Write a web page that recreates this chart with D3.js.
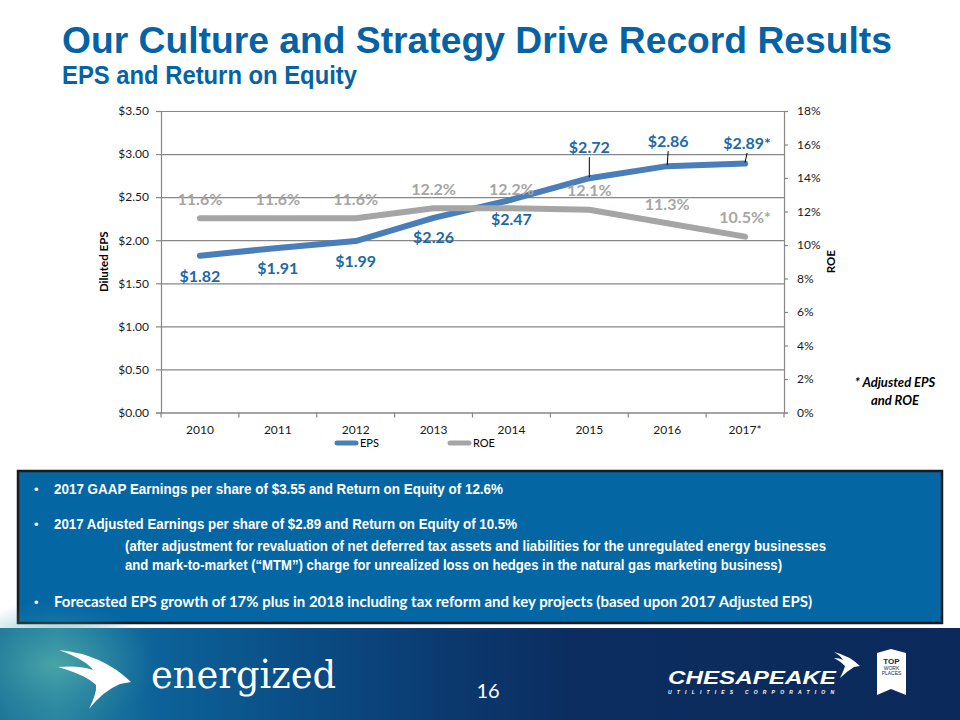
<!DOCTYPE html>
<html>
<head>
<meta charset="utf-8">
<script src="https://cdn.jsdelivr.net/npm/d3@7"></script>
<style>
  html, body { margin: 0; padding: 0; background: #ffffff; }
  svg { display: block; }
</style>
</head>
<body>
<svg id="chart" width="960" height="720"></svg>
<script>
// ---------------- DATA ----------------
const categories = ["2010", "2011", "2012", "2013", "2014", "2015", "2016", "2017*"];
const epsValues  = [1.82, 1.91, 1.99, 2.26, 2.47, 2.72, 2.86, 2.89];
const roeValues  = [11.6, 11.6, 11.6, 12.2, 12.2, 12.1, 11.3, 10.5];
const epsLabels  = ["$1.82", "$1.91", "$1.99", "$2.26", "$2.47", "$2.72", "$2.86", "$2.89*"];
const roeLabels  = ["11.6%", "11.6%", "11.6%", "12.2%", "12.2%", "12.1%", "11.3%", "10.5%*"];
const epsTicks   = [0, 0.5, 1, 1.5, 2, 2.5, 3, 3.5];
const roeTicks   = [0, 2, 4, 6, 8, 10, 12, 14, 16, 18];
const seriesNames = ["EPS", "ROE"];

// ---------------- LAYOUT (label placement, not data) ----------------
const epsLabelDy = [21, 20, 20, 20, 20, -31, -25, -20.5];
const epsLabelDx = [0, 0, 0, 0, 0, 0, 1, 2];
const epsLeader  = [false, false, false, false, false, true, true, true];
const roeLabelDy = -19;

const svg = d3.select("#chart");
const W = 960, H = 720;
const plot = { left: 161, right: 784, top: 111, bottom: 412.5 };

const C = {
  title: "#0563a5",
  eps: "#4a7ebb",
  epsText: "#1c69a8",
  roe: "#a5a5a5",
  roeText: "#a6a6a6",
  grid: "#878787",
  box: "#0566a4",
};
const chartFont = "Lato, 'Open Sans', 'DejaVu Sans', sans-serif";

// ---------------- TITLE ----------------
svg.append("text")
  .attr("x", 62).attr("y", 53)
  .attr("font-family", "'Liberation Sans', Arial, sans-serif")
  .attr("font-weight", "bold").attr("font-size", 36)
  .attr("textLength", 830).attr("lengthAdjust", "spacingAndGlyphs")
  .attr("fill", C.title)
  .text("Our Culture and Strategy Drive Record Results");

svg.append("text")
  .attr("x", 62).attr("y", 84)
  .attr("font-family", "'Liberation Sans', Arial, sans-serif")
  .attr("font-weight", "bold").attr("font-size", 25)
  .attr("textLength", 295).attr("lengthAdjust", "spacingAndGlyphs")
  .attr("fill", C.title)
  .text("EPS and Return on Equity");

// ---------------- SCALES ----------------
const x = d3.scaleBand().domain(categories).range([plot.left, plot.right]).padding(0);
const yL = d3.scaleLinear().domain([0, 3.5]).range([plot.bottom, plot.top]);
const yR = d3.scaleLinear().domain([0, 18]).range([plot.bottom, plot.top]);
const cx = d => x(d) + x.bandwidth() / 2;

const g = svg.append("g");

// gridlines
g.append("g")
  .attr("transform", `translate(${plot.left},0)`)
  .call(d3.axisLeft(yL).tickValues(epsTicks).tickSize(-(plot.right - plot.left)).tickFormat(""))
  .call(s => s.select(".domain").remove())
  .call(s => s.selectAll("line").attr("stroke", C.grid).attr("stroke-width", 1.2));

// left axis
g.append("g")
  .attr("transform", `translate(${plot.left},0)`)
  .call(d3.axisLeft(yL).tickValues(epsTicks).tickSize(5).tickPadding(7)
        .tickFormat(d => "$" + d.toFixed(2)))
  .call(s => s.select(".domain").attr("stroke", C.grid).attr("stroke-width", 1.2))
  .call(s => s.selectAll("line").attr("stroke", C.grid).attr("stroke-width", 1.2))
  .call(s => s.selectAll("text").attr("font-family", chartFont).attr("font-size", 12).attr("fill", "#1a1a1a"));

// right axis
g.append("g")
  .attr("transform", `translate(${plot.right},0)`)
  .call(d3.axisRight(yR).tickValues(roeTicks).tickSize(4).tickPadding(9)
        .tickFormat(d => d + "%"))
  .call(s => s.select(".domain").attr("stroke", C.grid).attr("stroke-width", 1.2))
  .call(s => s.selectAll("line").attr("stroke", C.grid).attr("stroke-width", 1.2))
  .call(s => s.selectAll("text").attr("font-family", chartFont).attr("font-size", 12).attr("fill", "#1a1a1a"));

// bottom axis
const xAxisG = g.append("g")
  .attr("transform", `translate(0,${plot.bottom})`)
  .call(d3.axisBottom(x).tickSize(0).tickPadding(12.5))
  .call(s => s.select(".domain").attr("stroke", C.grid).attr("stroke-width", 1.2))
  .call(s => s.selectAll("text").attr("font-family", chartFont).attr("font-size", 12).attr("fill", "#1a1a1a"));
// boundary ticks
const bounds = categories.map(c => x(c)).concat([x(categories[categories.length - 1]) + x.bandwidth()]);
xAxisG.selectAll("line.bt").data(bounds).join("line")
  .attr("class", "bt")
  .attr("x1", d => d).attr("x2", d => d)
  .attr("y1", 0).attr("y2", 5)
  .attr("stroke", C.grid).attr("stroke-width", 1.2);

// axis titles
svg.append("text")
  .attr("transform", `translate(108,${(plot.top + plot.bottom) / 2}) rotate(-90)`)
  .attr("text-anchor", "middle")
  .attr("font-family", chartFont).attr("font-weight", "bold").attr("font-size", 11.5)
  .attr("fill", "#000").text("Diluted EPS");

svg.append("text")
  .attr("transform", `translate(835,${(plot.top + plot.bottom) / 2}) rotate(-90)`)
  .attr("text-anchor", "middle")
  .attr("font-family", chartFont).attr("font-weight", "bold").attr("font-size", 11.5)
  .attr("fill", "#000").text("ROE");

// ---------------- LINES ----------------
const epsLine = d3.line().x((d, i) => cx(categories[i])).y(d => yL(d));
const roeLine = d3.line().x((d, i) => cx(categories[i])).y(d => yR(d));

g.append("path").datum(epsValues)
  .attr("d", epsLine).attr("fill", "none")
  .attr("stroke", C.eps).attr("stroke-width", 6)
  .attr("stroke-linecap", "round").attr("stroke-linejoin", "round");

g.append("path").datum(roeValues)
  .attr("d", roeLine).attr("fill", "none")
  .attr("stroke", C.roe).attr("stroke-width", 6)
  .attr("stroke-linecap", "round").attr("stroke-linejoin", "round");

// ---------------- DATA LABELS ----------------
const labelSize = 16;
epsValues.forEach((v, i) => {
  if (!epsLeader[i]) return;
  const px = cx(categories[i]);
  const py = yL(v);
  const lx = px + epsLabelDx[i];
  const ly = py + epsLabelDy[i] + 10;
  g.append("line")
    .attr("x1", lx).attr("y1", ly).attr("x2", px).attr("y2", py - 1)
    .attr("stroke", "#000").attr("stroke-width", 1);
});

g.selectAll("text.epsl").data(epsValues).join("text")
  .attr("class", "epsl")
  .attr("x", (d, i) => cx(categories[i]) + epsLabelDx[i])
  .attr("y", (d, i) => yL(d) + epsLabelDy[i])
  .attr("dy", "0.35em")
  .attr("text-anchor", "middle")
  .attr("font-family", chartFont).attr("font-weight", "bold").attr("font-size", labelSize)
  .attr("fill", C.epsText)
  .text((d, i) => epsLabels[i]);

g.selectAll("text.roel").data(roeValues).join("text")
  .attr("class", "roel")
  .attr("x", (d, i) => cx(categories[i]))
  .attr("y", d => yR(d) + roeLabelDy)
  .attr("dy", "0.35em")
  .attr("text-anchor", "middle")
  .attr("font-family", chartFont).attr("font-weight", "bold").attr("font-size", labelSize)
  .attr("fill", C.roeText)
  .text((d, i) => roeLabels[i]);

// ---------------- LEGEND ----------------
const legend = svg.append("g").attr("transform", "translate(0,443)");
const legendItems = [
  { name: seriesNames[0], color: C.eps, x: 335 },
  { name: seriesNames[1], color: C.roe, x: 448 },
];
legendItems.forEach(it => {
  legend.append("line").attr("x1", it.x + 2).attr("x2", it.x + 21).attr("y1", 0).attr("y2", 0)
    .attr("stroke", it.color).attr("stroke-width", 5).attr("stroke-linecap", "round");
  legend.append("text").attr("x", it.x + 25).attr("y", 0).attr("dy", "0.35em")
    .attr("font-family", chartFont).attr("font-size", 11).attr("fill", "#000").text(it.name);
});

// footnote
const fn = svg.append("text")
  .attr("text-anchor", "middle")
  .attr("font-family", chartFont).attr("font-weight", "bold").attr("font-style", "italic")
  .attr("font-size", 13).attr("fill", "#000");
fn.append("tspan").attr("x", 895).attr("y", 387).text("* Adjusted EPS");
fn.append("tspan").attr("x", 895).attr("y", 405).text("and ROE");

// ---------------- TEXT BOX ----------------
svg.append("rect").attr("x", 18).attr("y", 471).attr("width", 924).attr("height", 152)
  .attr("fill", C.box).attr("stroke", "#1b1b1b").attr("stroke-width", 2.5);

const narrow = "'Liberation Sans Narrow', 'Arial Narrow', 'Liberation Sans', sans-serif";
const boxLines = [
  { bullet: true, x: 54, y: 494, len: 449, font: narrow, text: "2017 GAAP Earnings per share of $3.55  and Return on Equity of 12.6%" },
  { bullet: true, x: 54, y: 529, len: 463, font: narrow, text: "2017 Adjusted Earnings per share of $2.89 and Return on Equity of 10.5%" },
  { bullet: false, x: 125, y: 551, len: 701, font: narrow, text: "(after adjustment for  revaluation of net deferred tax assets and liabilities for the unregulated energy businesses" },
  { bullet: false, x: 125, y: 570, len: 657, font: narrow, text: "and mark-to-market (\u201CMTM\u201D) charge for unrealized loss on hedges in the natural gas marketing business)" },
  { bullet: true, x: 54, y: 607, len: 758, font: chartFont, text: "Forecasted EPS growth of 17% plus in 2018 including tax reform and key projects (based upon 2017 Adjusted EPS)" },
];
boxLines.forEach(l => {
  if (l.bullet) {
    svg.append("text").attr("x", 34).attr("y", l.y).attr("font-family", "'Liberation Sans', sans-serif")
      .attr("font-size", 13).attr("fill", "#fff").text("\u2022");
  }
  svg.append("text").attr("x", l.x).attr("y", l.y)
    .attr("font-family", l.font).attr("font-weight", "bold").attr("font-size", 15)
    .attr("textLength", l.len).attr("lengthAdjust", "spacingAndGlyphs")
    .attr("fill", "#fff").text(l.text);
});

// ---------------- FOOTER ----------------
const defs = svg.append("defs");
const lg = defs.append("linearGradient").attr("id", "foot").attr("x1", "0").attr("x2", "1").attr("y1", "0").attr("y2", "0");
[["0%", "#1f7698"], ["6%", "#2a86a0"], ["16%", "#0c6399"], ["30%", "#0a4f87"], ["46%", "#0b3a70"], ["60%", "#0b2d5f"], ["100%", "#0b2a5b"]]
  .forEach(([o, c]) => lg.append("stop").attr("offset", o).attr("stop-color", c));
const rg = defs.append("radialGradient").attr("id", "glow").attr("cx", "0.5").attr("cy", "0.5").attr("r", "0.5");
rg.append("stop").attr("offset", "0%").attr("stop-color", "#4faaa8").attr("stop-opacity", 0.85);
rg.append("stop").attr("offset", "100%").attr("stop-color", "#2a8aa5").attr("stop-opacity", 0);

svg.append("rect").attr("x", 0).attr("y", 628).attr("width", W).attr("height", 92).attr("fill", "url(#foot)");
svg.append("ellipse").attr("cx", 55).attr("cy", 665).attr("rx", 100).attr("ry", 65).attr("fill", "url(#glow)");

// bird logo (decorative)
svg.append("path")
  .attr("d", "M59,650 Q102,654 131,682 L120,684 Q103,691 89,709 Q97,693 96,685 Q86,675 58,667 Q80,665 93,670 Q86,660 59,650 Z")
  .attr("fill", "#fff");

svg.append("text").attr("x", 151).attr("y", 688)
  .attr("font-family", "'DejaVu Serif', 'Liberation Serif', serif")
  .attr("font-size", 40).attr("textLength", 185).attr("lengthAdjust", "spacingAndGlyphs")
  .attr("fill", "#fff").text("energized");

svg.append("text").attr("x", 488).attr("y", 698).attr("text-anchor", "middle")
  .attr("font-family", chartFont).attr("font-size", 20).attr("fill", "#fff").text("16");

svg.append("text").attr("x", 668).attr("y", 684)
  .attr("font-family", "'Liberation Sans', Arial, sans-serif").attr("font-weight", "bold").attr("font-style", "italic")
  .attr("font-size", 18).attr("textLength", 168).attr("lengthAdjust", "spacingAndGlyphs")
  .attr("fill", "#fff").text("CHESAPEAKE");
svg.append("text").attr("x", 668).attr("y", 694)
  .attr("font-family", "'Liberation Sans', Arial, sans-serif").attr("font-weight", "bold").attr("font-style", "italic")
  .attr("font-size", 5).attr("textLength", 166).attr("lengthAdjust", "spacing")
  .attr("fill", "#fff").text("UTILITIES  CORPORATION");
svg.append("path")
  .attr("d", "M834,652 Q850,656 860,666 L854,667 Q846,672 840,678 Q844,670 845,666 Q840,661 834,658 Q840,658 843,660 Q840,655 834,652 Z")
  .attr("fill", "#fff");

// top work places badge
svg.append("path").attr("d", "M877,653 L891,649 L906,653 L906,695 L891,689 L877,695 Z").attr("fill", "#fff");
svg.append("text").attr("x", 891.5).attr("y", 664).attr("text-anchor", "middle")
  .attr("font-family", "'Liberation Sans', sans-serif").attr("font-weight", "bold").attr("font-size", 8)
  .attr("fill", "#0b2a5b").text("TOP");
svg.append("text").attr("x", 891.5).attr("y", 670).attr("text-anchor", "middle")
  .attr("font-family", "'Liberation Sans', sans-serif").attr("font-size", 5)
  .attr("fill", "#0b2a5b").text("WORK");
svg.append("text").attr("x", 891.5).attr("y", 675).attr("text-anchor", "middle")
  .attr("font-family", "'Liberation Sans', sans-serif").attr("font-size", 5)
  .attr("fill", "#0b2a5b").text("PLACES");
</script>
</body>
</html>
